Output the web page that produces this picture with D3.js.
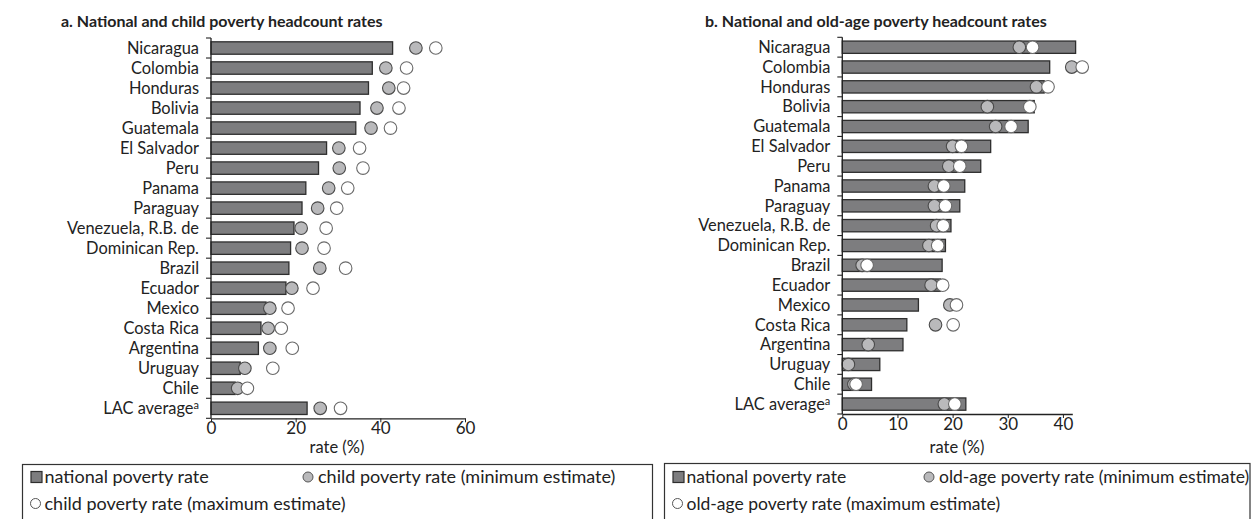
<!DOCTYPE html>
<html>
<head>
<meta charset="utf-8">
<script src="https://cdn.jsdelivr.net/npm/d3@7"></script>
<style>
  body { margin: 0; background: #fff; }
  text { font-family: Lato, 'Open Sans', sans-serif; fill: #222; }
</style>
</head>
<body>
<svg id="chart" width="1252" height="519"></svg>
<script>
const countriesA = ['Nicaragua', 'Colombia', 'Honduras', 'Bolivia', 'Guatemala', 'El Salvador', 'Peru', 'Panama',
  'Paraguay', 'Venezuela, R.B. de', 'Dominican Rep.', 'Brazil', 'Ecuador', 'Mexico', 'Costa Rica', 'Argentina',
  'Uruguay', 'Chile', 'LAC average']
const nationalA = [42.9, 38.1, 37.2, 35.2, 34.2, 27.3, 25.4, 22.4, 21.5, 19.6, 18.8, 18.4, 17.7, 13.0, 11.8, 11.2, 6.9, 5.7, 22.7]
const childMin = [48.4, 41.3, 42.0, 39.2, 37.8, 30.2, 30.3, 27.8, 25.2, 21.3, 21.5, 25.7, 19.1, 13.9, 13.5, 13.9, 8.0, 6.3, 25.8]
const childMax = [53.1, 46.2, 45.5, 44.4, 42.4, 35.1, 35.9, 32.3, 29.7, 27.2, 26.7, 31.8, 24.1, 18.2, 16.6, 19.2, 14.6, 8.6, 30.6]

const countriesB = countriesA
const nationalB = [42.3, 37.6, 36.6, 34.8, 33.7, 26.9, 25.1, 22.2, 21.3, 19.7, 18.7, 18.1, 17.8, 13.8, 11.7, 11.0, 6.8, 5.3, 22.4]
const oldMin = [32.1, 41.6, 35.2, 26.3, 27.8, 20.0, 19.3, 16.7, 16.7, 17.1, 15.7, 3.6, 16.1, 19.5, 16.9, 4.7, 1.1, 2.1, 18.5]
const oldMax = [34.5, 43.5, 37.3, 34.0, 30.6, 21.6, 21.3, 18.4, 18.7, 18.3, 17.3, 4.5, 18.2, 20.7, 20.1, null, null, 2.5, 20.4]

const ticksA = [0, 20, 40, 60]
const ticksB = [0, 10, 20, 30, 40]

const svg = d3.select('#chart')

let drawPanel = (opt) => {
  const g = svg.append('g')

  const x = d3.scaleLinear().domain(opt.xDomain).range(opt.xRange)
  const y = d3.scaleBand().domain(opt.countries).range(opt.yRange).paddingInner(0.38).paddingOuter(0.19)

  g.append('text')
    .text(opt.title)
    .attr('x', opt.titleX)
    .attr('y', 27)
    .style('font-weight', 'bold')
    .style('font-size', '16px')

  // bars
  g.selectAll('.bar')
    .data(opt.countries)
    .enter().append('rect')
    .attr('x', x(0))
    .attr('y', d => y(d))
    .attr('width', (d, i) => x(opt.national[i]) - x(0))
    .attr('height', y.bandwidth())
    .style('fill', '#7d7d7f')
    .style('stroke', '#2e2e2e')
    .style('stroke-width', 1.3)

  const minPts = opt.countries.map((c, i) => [c, opt.min[i]]).filter(d => d[1] != null)
  const maxPts = opt.countries.map((c, i) => [c, opt.max[i]]).filter(d => d[1] != null)

  g.selectAll('.cmin')
    .data(minPts)
    .enter().append('circle')
    .attr('cx', d => x(d[1]))
    .attr('cy', d => y(d[0]) + y.bandwidth() / 2)
    .attr('r', 6.3)
    .style('fill', '#b9b9bb')
    .style('stroke', '#4a4a4a')
    .style('stroke-width', 1.1)

  g.selectAll('.cmax')
    .data(maxPts)
    .enter().append('circle')
    .attr('cx', d => x(d[1]))
    .attr('cy', d => y(d[0]) + y.bandwidth() / 2)
    .attr('r', 6.3)
    .style('fill', '#fff')
    .style('stroke', '#6a6a6a')
    .style('stroke-width', 1.1)

  // y axis with ticks at band boundaries
  const step = y.step()
  const bounds = d3.range(opt.countries.length + 1).map(i => opt.yRange[0] + i * step)
  g.append('line')
    .attr('x1', x(0)).attr('x2', x(0))
    .attr('y1', opt.yRange[0]).attr('y2', opt.yRange[1])
    .style('stroke', '#222').style('stroke-width', 1.3)
  g.selectAll('.ytick')
    .data(bounds)
    .enter().append('line')
    .attr('x1', x(0) - 5).attr('x2', x(0))
    .attr('y1', d => d).attr('y2', d => d)
    .style('stroke', '#222').style('stroke-width', 1.1)

  g.selectAll('.ylab')
    .data(opt.countries)
    .enter().append('text')
    .attr('x', x(0) - 12)
    .attr('y', d => y(d) + y.bandwidth() / 2)
    .attr('dy', '0.35em')
    .style('text-anchor', 'end')
    .style('font-size', '16.4px')
    .each(function (d) {
      if (d == 'LAC average') {
        d3.select(this).append('tspan').text(d)
        d3.select(this).append('tspan').text('a').attr('dy', '-0.45em').style('font-size', '11px')
      } else {
        d3.select(this).text(d)
      }
    })

  // x axis
  const xAxis = g.append('g')
    .attr('transform', `translate(0,${opt.yRange[1]})`)
    .call(d3.axisBottom(x).tickValues(opt.ticks).tickSize(4).tickSizeOuter(0))
  xAxis.select('.domain').style('stroke', '#222').style('stroke-width', 1.3)
  xAxis.selectAll('.tick line').style('stroke', '#222')
  xAxis.selectAll('.tick text')
    .style('font-family', "Lato, 'Open Sans', sans-serif")
    .style('font-size', '17px')
    .style('fill', '#222')
    .attr('dy', '0.5em')

  g.append('text')
    .text('rate (%)')
    .attr('x', opt.labelX)
    .attr('y', 453)
    .style('text-anchor', 'middle')
    .style('font-size', '16.5px')

  // legend
  const lg = g.append('g')
  lg.append('rect')
    .attr('x', opt.legend[0]).attr('y', opt.legend[1])
    .attr('width', opt.legend[2]).attr('height', 70)
    .style('fill', 'none').style('stroke', '#333').style('stroke-width', 1.2)
  const lx = opt.legend[0]
  lg.append('rect')
    .attr('x', lx + 8.5).attr('y', 471.5).attr('width', 11).attr('height', 11)
    .style('fill', '#7d7d7f').style('stroke', '#2e2e2e').style('stroke-width', 1.2)
  lg.append('text').text('national poverty rate')
    .attr('x', lx + 22).attr('y', 483).style('font-size', opt.legFont)
  lg.append('circle')
    .attr('cx', opt.minLegX).attr('cy', 477).attr('r', 5)
    .style('fill', '#b9b9bb').style('stroke', '#555')
  lg.append('text').text(opt.minLabel)
    .attr('x', opt.minLegX + 10).attr('y', 483).style('font-size', opt.legFont)
  lg.append('circle')
    .attr('cx', lx + 13).attr('cy', 503.5).attr('r', 5)
    .style('fill', '#fff').style('stroke', '#555')
  lg.append('text').text(opt.maxLabel)
    .attr('x', lx + 22).attr('y', 509.5).style('font-size', opt.legFont)
}

drawPanel({
  title: 'a. National and child poverty headcount rates',
  titleX: 61,
  countries: countriesA,
  national: nationalA, min: childMin, max: childMax,
  xDomain: [0, 60], xRange: [211, 465],
  yRange: [38, 418.3],
  ticks: ticksA,
  labelX: 337,
  legend: [22.5, 464.5, 630],
  minLegX: 308,
  legFont: '18px',
  minLabel: 'child poverty rate (minimum estimate)',
  maxLabel: 'child poverty rate (maximum estimate)'
})

drawPanel({
  title: 'b. National and old-age poverty headcount rates',
  titleX: 705,
  countries: countriesB,
  national: nationalB, min: oldMin, max: oldMax,
  xDomain: [0, 41.7], xRange: [842.3, 1072.3],
  yRange: [37.3, 414],
  ticks: ticksB,
  labelX: 957,
  legend: [664.5, 463.5, 585.5],
  minLegX: 929,
  legFont: '17.5px',
  minLabel: 'old-age poverty rate (minimum estimate)',
  maxLabel: 'old-age poverty rate (maximum estimate)'
})
</script>
</body>
</html>
